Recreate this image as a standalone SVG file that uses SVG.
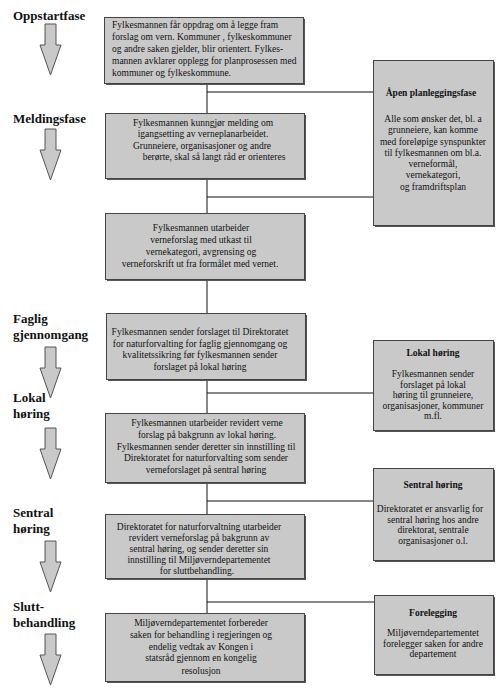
<svg xmlns="http://www.w3.org/2000/svg" width="500" height="688" viewBox="0 0 500 688">
<style>
.box{fill:#c9c9c9;stroke:#444;stroke-width:1}
.sh{fill:#555}
.t{font-family:"Liberation Serif","Times New Roman",serif;font-size:9.5px;fill:#111}
.c{text-anchor:middle}
.b{font-weight:bold}
.ph{font-family:"Liberation Serif","Times New Roman",serif;font-size:13px;font-weight:bold;fill:#111}
.arr{fill:#c9c9c9;stroke:#555;stroke-width:1}
.ln{stroke:#111;stroke-width:1;fill:none}
</style>
<defs>
<path id="arrow" d="M0 0 H11 V21 H16 L5.5 51 L-5 21 H0 Z"/>
</defs>
<g id="connectors">
<path class="ln" d="M207 83 V613"/>
<path class="ln" d="M207 92 H373"/>
<path class="ln" d="M207 197 H373"/>
<path class="ln" d="M207 393 H373"/>
<path class="ln" d="M207 501 H373"/>
<path class="ln" d="M207 602 H374"/>
</g>
<g id="phase-oppstart">
<text class="ph" x="13" y="20">Oppstartfase</text>
<use href="#arrow" class="arr" x="45" y="24"/>
</g>
<g id="phase-melding">
<text class="ph" x="13" y="123">Meldingsfase</text>
<use href="#arrow" class="arr" x="45" y="129"/>
</g>
<g id="phase-faglig">
<text class="ph" x="13" y="323">Faglig</text>
<text class="ph" x="13" y="339">gjennomgang</text>
<use href="#arrow" class="arr" x="45" y="347"/>
</g>
<g id="phase-lokal">
<text class="ph" x="13" y="402">Lokal</text>
<text class="ph" x="13" y="418">høring</text>
<use href="#arrow" class="arr" x="45" y="428"/>
</g>
<g id="phase-sentral">
<text class="ph" x="13" y="517">Sentral</text>
<text class="ph" x="13" y="533">høring</text>
<use href="#arrow" class="arr" x="45" y="541"/>
</g>
<g id="phase-slutt">
<text class="ph" x="13" y="611">Slutt-</text>
<text class="ph" x="13" y="627">behandling</text>
<use href="#arrow" class="arr" x="45" y="634"/>
</g>
<g id="box1">
<rect class="sh" x="106" y="19" width="199" height="66"/>
<rect class="box" x="104.5" y="17.5" width="199" height="66"/>
<text class="t" x="112" y="28">Fylkesmannen får oppdrag om å legge fram</text>
<text class="t" x="112" y="40">forslag om vern. Kommuner , fylkeskommuner</text>
<text class="t" x="112" y="52">og andre saken gjelder, blir orientert.  Fylkes-</text>
<text class="t" x="112" y="64">mannen avklarer opplegg for planprosessen med</text>
<text class="t" x="112" y="76">kommuner og fylkeskommune.</text>
</g>
<g id="box2">
<rect class="sh" x="107" y="115" width="199" height="65"/>
<rect class="box" x="105.5" y="113.5" width="199" height="65"/>
<text class="t c" x="203" y="126">Fylkesmannen kunngjør melding om</text>
<text class="t c" x="203" y="137">igangsetting av verneplanarbeidet.</text>
<text class="t c" x="202" y="149">Grunneiere, organisasjoner og  andre</text>
<text class="t c" x="214" y="160">berørte, skal  så langt råd er orienteres</text>
</g>
<g id="box3">
<rect class="sh" x="107" y="215" width="199" height="66"/>
<rect class="box" x="105.5" y="213.5" width="199" height="66"/>
<text class="t c" x="201" y="231">Fylkesmannen utarbeider</text>
<text class="t c" x="201" y="243">verneforslag med utkast til</text>
<text class="t c" x="201" y="255">vernekategori, avgrensing og</text>
<text class="t c" x="200" y="267">verneforskrift ut fra formålet med vernet.</text>
</g>
<g id="box4">
<rect class="sh" x="108" y="315" width="199" height="66"/>
<rect class="box" x="106.5" y="313.5" width="199" height="66"/>
<text class="t c" x="200" y="335">Fylkesmannen sender forslaget til Direktoratet</text>
<text class="t c" x="200" y="347">for naturforvalting for faglig gjennomgang og</text>
<text class="t c" x="200" y="358">kvalitetssikring før fylkesmannen sender</text>
<text class="t c" x="200" y="370">forslaget på lokal høring</text>
</g>
<g id="box5">
<rect class="sh" x="107" y="415" width="199" height="69"/>
<rect class="box" x="105.5" y="413.5" width="199" height="69"/>
<text class="t c" x="207" y="426">Fylkesmannen utarbeider revidert verne</text>
<text class="t c" x="207" y="438">forslag på bakgrunn av lokal høring.</text>
<text class="t c" x="206" y="450">Fylkesmannen  sender deretter sin innstilling til</text>
<text class="t c" x="206" y="461">Direktoratet for naturforvalting som sender</text>
<text class="t c" x="206" y="473">verneforslaget på sentral høring</text>
</g>
<g id="box6">
<rect class="sh" x="107" y="516" width="199" height="64"/>
<rect class="box" x="105.5" y="514.5" width="199" height="64"/>
<text class="t c" x="199" y="530">Direktoratet  for naturforvaltning utarbeider</text>
<text class="t c" x="199" y="541">revidert  verneforslag på bakgrunn av</text>
<text class="t c" x="199" y="552">sentral høring, og sender deretter sin</text>
<text class="t c" x="199" y="563">innstilling  til Miljøverndepartementet</text>
<text class="t c" x="197" y="574">for sluttbehandling.</text>
</g>
<g id="box7">
<rect class="sh" x="107" y="615" width="199" height="68"/>
<rect class="box" x="105.5" y="613.5" width="199" height="68"/>
<text class="t c" x="201" y="626">Miljøverndepartementet forbereder</text>
<text class="t c" x="201" y="638">saken for behandling i regjeringen og</text>
<text class="t c" x="201" y="650">endelig vedtak av Kongen i</text>
<text class="t c" x="201" y="661">statsråd gjennom en kongelig</text>
<text class="t c" x="201" y="674">resolusjon</text>
</g>
<g id="side-aapen">
<rect class="sh" x="375" y="62" width="120" height="165"/>
<rect class="box" x="373.5" y="60.5" width="120" height="165"/>
<text class="t c b" x="431" y="96">Åpen planleggingsfase</text>
<text class="t c" x="433" y="122">Alle som ønsker det, bl. a</text>
<text class="t c" x="433" y="133">grunneiere, kan komme</text>
<text class="t c" x="433" y="145">med foreløpige synspunkter</text>
<text class="t c" x="433" y="156">til fylkesmannen om  bl.a.</text>
<text class="t c" x="433" y="167">verneformål,</text>
<text class="t c" x="433" y="178">vernekategori,</text>
<text class="t c" x="433" y="190">og framdriftsplan</text>
</g>
<g id="side-lokal">
<rect class="sh" x="375" y="342" width="120" height="90"/>
<rect class="box" x="373.5" y="340.5" width="120" height="90"/>
<text class="t c b" x="433" y="356">Lokal høring</text>
<text class="t c" x="433" y="377">Fylkesmannen sender</text>
<text class="t c" x="433" y="387.5">forslaget på lokal</text>
<text class="t c" x="433" y="398">høring til grunneiere,</text>
<text class="t c" x="433" y="408.5">organisasjoner, kommuner</text>
<text class="t c" x="433" y="419">m.fl.</text>
</g>
<g id="side-sentral">
<rect class="sh" x="375" y="470" width="120" height="92"/>
<rect class="box" x="373.5" y="468.5" width="120" height="92"/>
<text class="t c b" x="433" y="488">Sentral høring</text>
<text class="t c" x="430" y="512">Direktoratet er ansvarlig for</text>
<text class="t c" x="433" y="522.5">sentral høring hos andre</text>
<text class="t c" x="433" y="533">direktorat, sentrale</text>
<text class="t c" x="433" y="543.5">organisasjoner o.l.</text>
</g>
<g id="side-forelegging">
<rect class="sh" x="376" y="597" width="119" height="79"/>
<rect class="box" x="374.5" y="595.5" width="119" height="79"/>
<text class="t c b" x="433" y="616">Forelegging</text>
<text class="t c" x="433" y="636">Miljøverndepartementet</text>
<text class="t c" x="433" y="646.5">forelegger saken for andre</text>
<text class="t c" x="433" y="657">departement</text>
</g>
</svg>
